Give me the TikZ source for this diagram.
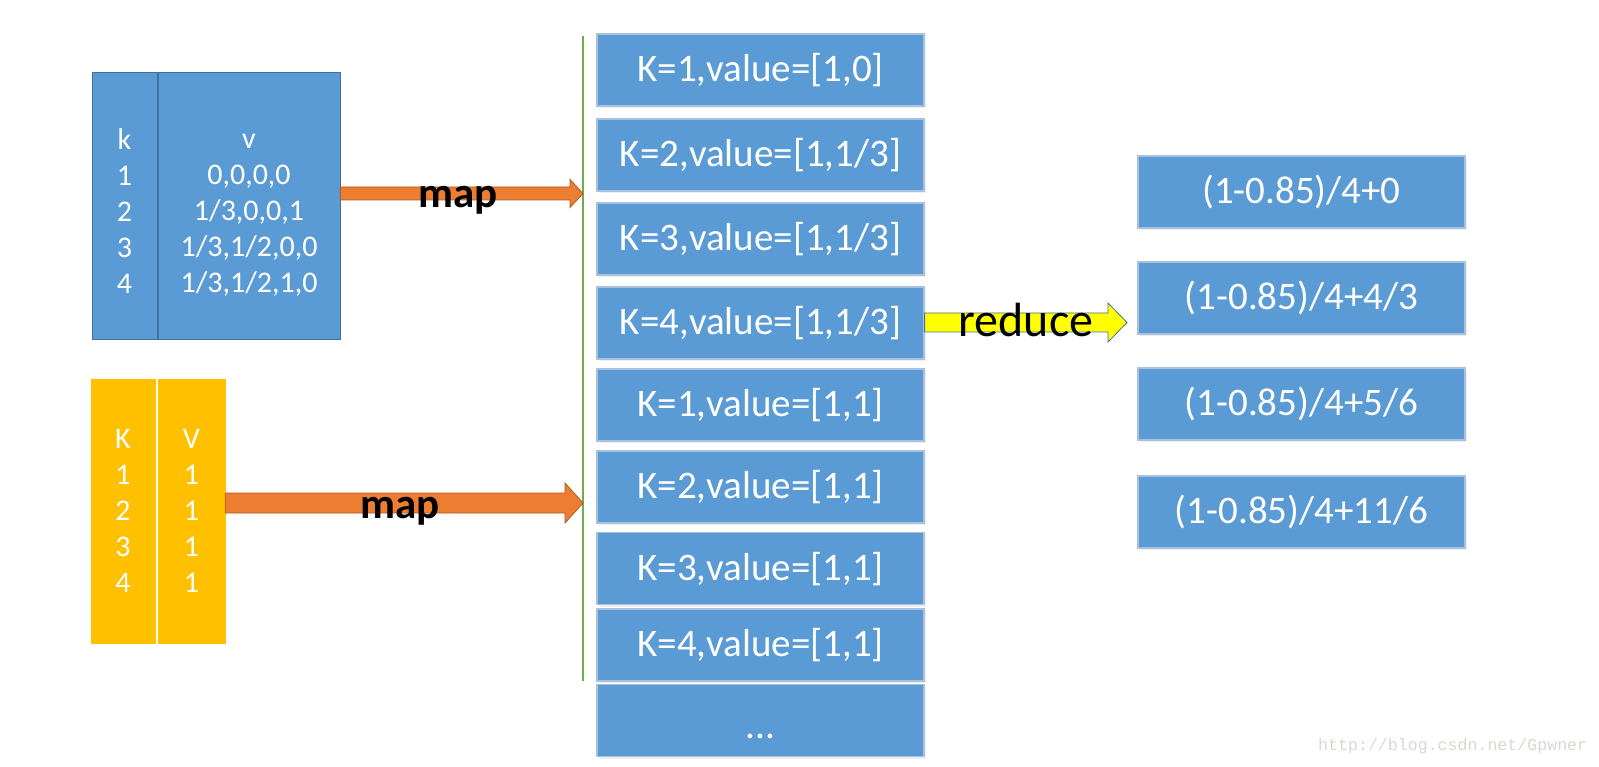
\documentclass[tikz,border=0pt]{standalone}
\usepackage{fontspec}
\setmainfont{Carlito}
\setmonofont{Liberation Mono}
\usetikzlibrary{calc,shadows}
\definecolor{boxblue}{HTML}{5B9BD5}
\definecolor{boxedge}{HTML}{A9C1DC}
\definecolor{tbledge}{HTML}{41719C}
\definecolor{tblyellow}{HTML}{FFC000}
\definecolor{arrorange}{HTML}{ED7D31}
\definecolor{arroredge}{HTML}{AE5A21}
\definecolor{arryellow}{HTML}{FFFF00}
\definecolor{linegreen}{HTML}{70AD47}
\definecolor{wmgrey}{HTML}{D8D8D2}
\newcommand{\fatarr}[6]{%
  \filldraw[#1] ($(#2)+(0,-#4)$) -- ($(#3)+(-#6,-#4)$) -- ($(#3)+(-#6,-#5)$) -- (#3)
    -- ($(#3)+(-#6,#5)$) -- ($(#3)+(-#6,#4)$) -- ($(#2)+(0,#4)$) -- cycle;}
\begin{document}
\begin{tikzpicture}[x=1pt,y=-1pt,
  midbox/.style={fill=boxblue, draw=boxedge, line width=1.2pt,
    minimum width=327pt, minimum height=72pt, inner sep=0pt, text=white,
    font=\fontsize{39}{47}\selectfont, text height=31pt, text depth=8pt,
    drop shadow={opacity=0.12, shadow xshift=2pt, shadow yshift=-2pt}},
  tblblue/.style={fill=boxblue, draw=tbledge, line width=1pt, inner sep=0pt,
    text=white, align=center, font=\fontsize{30}{36}\selectfont},
  tblyel/.style={fill=tblyellow, draw=tblyellow, line width=0.5pt, inner sep=0pt,
    text=white, align=center, font=\fontsize{30}{36}\selectfont},
  maplbl/.style={font=\bfseries\fontsize{43}{50}\selectfont, text=black, inner sep=0pt},
  redlbl/.style={font=\fontsize{48}{56}\selectfont, text=black, inner sep=0pt},
  orarrow/.style={fill=arrorange, draw=arroredge, line width=0.8pt},
  yelarrow/.style={fill=arryellow, draw=tbledge, line width=0.8pt},
  greenline/.style={draw=linegreen, line width=1.5pt}
]
\useasboundingbox (0,0) rectangle (1599,767);
\fill[white] (0,0) rectangle (1599,767);

% tables
\node[tblblue, minimum width=65pt, minimum height=267pt] (bk) at (124.5,206.5) {\rule{0pt}{31pt}k\\1\\2\\3\\4};
\node[tblblue, minimum width=182pt, minimum height=267pt] (bv) at (249,206.5) {\rule{0pt}{31pt}v\\0,0,0,0\\1/3,0,0,1\\1/3,1/2,0,0\\1/3,1/2,1,0};
\node[tblyel, minimum width=64pt, minimum height=264pt] (yk) at (123,511) {K\\1\\2\\3\\4};
\node[tblyel, minimum width=67pt, minimum height=264pt] (yv) at (191.5,511) {V\\1\\1\\1\\1};

% green separator
\coordinate (lt) at (583,36);
\coordinate (lb) at (583,681);
\draw[greenline] (lt) -- (lb);

% middle column
\node[midbox] (m1) at (760.5,70) {K=1,value=[1,0]};
\node[midbox] (m2) at (760.5,155) {K=2,value=[1,1/3]};
\node[midbox] (m3) at (760.5,239) {K=3,value=[1,1/3]};
\node[midbox] (m4) at (760.5,323) {K=4,value=[1,1/3]};
\node[midbox] (m5) at (760.5,405) {K=1,value=[1,1]};
\node[midbox] (m6) at (760.5,487) {K=2,value=[1,1]};
\node[midbox] (m7) at (760.5,568.5) {K=3,value=[1,1]};
\node[midbox] (m8) at (760.5,645) {K=4,value=[1,1]};
\node[midbox] (m9) at (760.5,720.5) {\raisebox{-6pt}{...}};

% right column
\node[midbox] (r1) at (1301.5,192) {(1-0.85)/4+0};
\node[midbox] (r2) at (1301.5,298) {(1-0.85)/4+4/3};
\node[midbox] (r3) at (1301.5,404) {(1-0.85)/4+5/6};
\node[midbox] (r4) at (1301.5,512) {(1-0.85)/4+11/6};

% arrows
\coordinate (a1e) at (583,193.5);
\coordinate (a1s) at (bv.east |- a1e);
\fatarr{orarrow}{a1s}{a1e}{6.5}{14}{13}
\coordinate (a2e) at (583,503);
\coordinate (a2s) at (yv.east |- a2e);
\fatarr{orarrow}{a2s}{a2e}{10}{20}{18}
\coordinate (a3e) at (1127,322.5);
\coordinate (a3s) at (m4.east |- a3e);
\fatarr{yelarrow}{a3s}{a3e}{9.5}{19.5}{19}

% labels
\node[maplbl, anchor=base] (l1) at (458,208) {map};
\node[maplbl, anchor=base] (l2) at (400,518) {map};
\node[redlbl, anchor=base] (l3) at (1026,337) {reduce};

% watermark
\node[anchor=west, inner sep=0pt, text=wmgrey, font=\ttfamily\fontsize{16.6}{20}\selectfont] (wm) at (1318,746) {http://blog.csdn.net/Gpwner};
\end{tikzpicture}
\end{document}
